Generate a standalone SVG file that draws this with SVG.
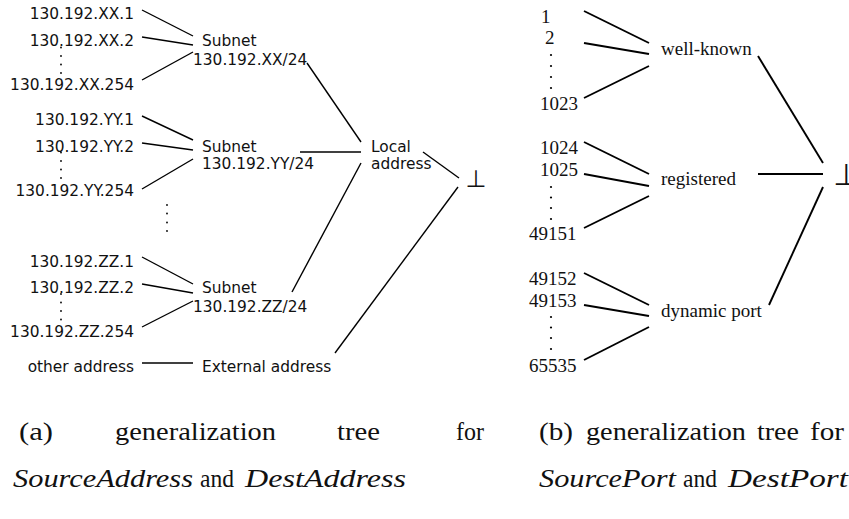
<svg xmlns="http://www.w3.org/2000/svg" width="849" height="519" viewBox="0 0 849 519">
<style>
.s{font-family:"DejaVu Sans","Liberation Sans",sans-serif;font-size:15.4px;fill:#111}
.r{font-family:"Liberation Serif","Times New Roman",serif;font-size:19px;fill:#111}
.c{font-family:"Liberation Serif","Times New Roman",serif;font-size:25px;fill:#111}
.i{font-style:italic}
.e{text-anchor:end}
.tk{font-family:"DejaVu Sans",sans-serif;fill:#111;text-anchor:middle}
.ln line{stroke:#000;stroke-width:1.4;fill:none}
.lr line{stroke:#000;stroke-width:1.9;fill:none}
.d circle{fill:#000}
</style>
<rect width="849" height="519" fill="#fff"/>

<g id="connectors">
 <g class="ln">
  <line x1="142" y1="10" x2="193" y2="36"/>
  <line x1="142" y1="37" x2="193" y2="45"/>
  <line x1="142" y1="80" x2="193" y2="52"/>
  <line x1="307" y1="63" x2="361" y2="142"/>
  <line x1="142" y1="116" x2="193" y2="140"/>
  <line x1="142" y1="143" x2="193" y2="150"/>
  <line x1="142" y1="189" x2="193" y2="159"/>
  <line x1="300" y1="152" x2="361" y2="152"/>
  <line x1="361" y1="163" x2="292" y2="292"/>
  <line x1="142" y1="257" x2="193" y2="284"/>
  <line x1="142" y1="284" x2="193" y2="293"/>
  <line x1="142" y1="327" x2="193" y2="301"/>
  <line x1="142" y1="363" x2="193" y2="363"/>
  <line x1="423" y1="152" x2="459" y2="178"/>
  <line x1="458" y1="187" x2="335" y2="353"/>
 </g>
 <g class="lr">
  <line x1="584" y1="11" x2="649" y2="43"/>
  <line x1="584" y1="43" x2="649" y2="54"/>
  <line x1="584" y1="98" x2="649" y2="66"/>
  <line x1="758" y1="56" x2="823" y2="163"/>
  <line x1="584" y1="142" x2="649" y2="174"/>
  <line x1="584" y1="174" x2="649" y2="186"/>
  <line x1="584" y1="228" x2="649" y2="196"/>
  <line x1="758" y1="174" x2="823" y2="174"/>
  <line x1="823" y1="187" x2="769" y2="305"/>
  <line x1="584" y1="273" x2="649" y2="305"/>
  <line x1="584" y1="305" x2="649" y2="316"/>
  <line x1="584" y1="360" x2="649" y2="327"/>
 </g>
</g>

<g id="leaves-xx">
 <text class="s e" x="134" y="19">130.192.XX.1</text>
 <text class="s e" x="134" y="46">130.192.XX.2</text>
 <g class="d"><circle cx="61" cy="47.5" r="0.9"/><circle cx="61" cy="56" r="0.9"/><circle cx="61" cy="64.5" r="0.9"/><circle cx="61" cy="73" r="0.9"/></g>
 <text class="s e" x="134" y="90">130.192.XX.254</text>
</g>
<g id="subnet-xx">
 <text class="s" x="202" y="46">Subnet</text>
 <text class="s" x="193" y="65">130.192.XX/24</text>
</g>

<g id="leaves-yy">
 <text class="s e" x="134" y="125">130.192.YY.1</text>
 <text class="s e" x="134" y="152">130.192.YY.2</text>
 <g class="d"><circle cx="61" cy="152.5" r="0.9"/><circle cx="61" cy="161" r="0.9"/><circle cx="61" cy="169.5" r="0.9"/><circle cx="61" cy="178" r="0.9"/></g>
 <text class="s e" x="134" y="196">130.192.YY.254</text>
</g>
<g id="subnet-yy">
 <text class="s" x="202" y="152">Subnet</text>
 <text class="s" x="202" y="169">130.192.YY/24</text>
</g>

<g id="more-subnets" class="d">
 <circle cx="167" cy="205" r="0.9"/><circle cx="167" cy="213.5" r="0.9"/><circle cx="167" cy="222.5" r="0.9"/><circle cx="167" cy="231" r="0.9"/>
</g>

<g id="leaves-zz">
 <text class="s e" x="134" y="267">130.192.ZZ.1</text>
 <text class="s e" x="134" y="293">130.192.ZZ.2</text>
 <g class="d"><circle cx="61" cy="294" r="0.9"/><circle cx="61" cy="302.5" r="0.9"/><circle cx="61" cy="311" r="0.9"/><circle cx="61" cy="319.5" r="0.9"/></g>
 <text class="s e" x="134" y="337">130.192.ZZ.254</text>
</g>
<g id="subnet-zz">
 <text class="s" x="202" y="293">Subnet</text>
 <text class="s" x="193" y="312">130.192.ZZ/24</text>
</g>

<g id="other-address"><text class="s e" x="134" y="372">other address</text></g>
<g id="external-address"><text class="s" x="202" y="372">External address</text></g>
<g id="local-address">
 <text class="s" x="371" y="152">Local</text>
 <text class="s" x="371" y="169">address</text>
</g>
<g id="top-address"><text class="tk" x="476" y="187" font-size="24">⊥</text></g>

<g id="ports-wellknown">
 <text class="r" x="541" y="22.5">1</text>
 <text class="r" x="545" y="44">2</text>
 <g class="d"><circle cx="551" cy="55" r="1.1"/><circle cx="551" cy="66" r="1.1"/><circle cx="551" cy="77" r="1.1"/><circle cx="551" cy="88" r="1.1"/></g>
 <text class="r" x="540" y="110">1023</text>
</g>
<g id="well-known"><text class="r" x="661" y="55">well-known</text></g>

<g id="ports-registered">
 <text class="r" x="540" y="154">1024</text>
 <text class="r" x="540" y="176">1025</text>
 <g class="d"><circle cx="551" cy="187" r="1.1"/><circle cx="551" cy="197.5" r="1.1"/><circle cx="551" cy="208" r="1.1"/><circle cx="551" cy="219" r="1.1"/></g>
 <text class="r" x="529" y="240">49151</text>
</g>
<g id="registered"><text class="r" x="661" y="185">registered</text></g>

<g id="ports-dynamic">
 <text class="r" x="529" y="285">49152</text>
 <text class="r" x="529" y="307">49153</text>
 <g class="d"><circle cx="551" cy="317" r="1.1"/><circle cx="551" cy="327.5" r="1.1"/><circle cx="551" cy="338" r="1.1"/><circle cx="551" cy="349" r="1.1"/></g>
 <text class="r" x="529" y="372">65535</text>
</g>
<g id="dynamic-port"><text class="r" x="661" y="317">dynamic port</text></g>
<g id="top-port"><text class="tk" x="846" y="185" font-size="30">⊥</text></g>

<g id="caption-a">
 <text class="c" x="19" y="440" textLength="34" lengthAdjust="spacingAndGlyphs">(a)</text>
 <text class="c" x="115" y="440" textLength="161" lengthAdjust="spacingAndGlyphs">generalization</text>
 <text class="c" x="337" y="440" textLength="43" lengthAdjust="spacingAndGlyphs">tree</text>
 <text class="c" x="456" y="440" textLength="28" lengthAdjust="spacingAndGlyphs">for</text>
 <text class="c i" x="13" y="487" textLength="180" lengthAdjust="spacingAndGlyphs">SourceAddress</text>
 <text class="c" x="200" y="487" textLength="34" lengthAdjust="spacingAndGlyphs">and</text>
 <text class="c i" x="245" y="487" textLength="161" lengthAdjust="spacingAndGlyphs">DestAddress</text>
</g>
<g id="caption-b">
 <text class="c" x="539" y="440" textLength="34" lengthAdjust="spacingAndGlyphs">(b)</text>
 <text class="c" x="586" y="440" textLength="160" lengthAdjust="spacingAndGlyphs">generalization</text>
 <text class="c" x="757" y="440" textLength="42" lengthAdjust="spacingAndGlyphs">tree</text>
 <text class="c" x="810" y="440" textLength="34" lengthAdjust="spacingAndGlyphs">for</text>
 <text class="c i" x="539" y="487" textLength="137" lengthAdjust="spacingAndGlyphs">SourcePort</text>
 <text class="c" x="683" y="487" textLength="34" lengthAdjust="spacingAndGlyphs">and</text>
 <text class="c i" x="728" y="487" textLength="120" lengthAdjust="spacingAndGlyphs">DestPort</text>
</g>
</svg>
